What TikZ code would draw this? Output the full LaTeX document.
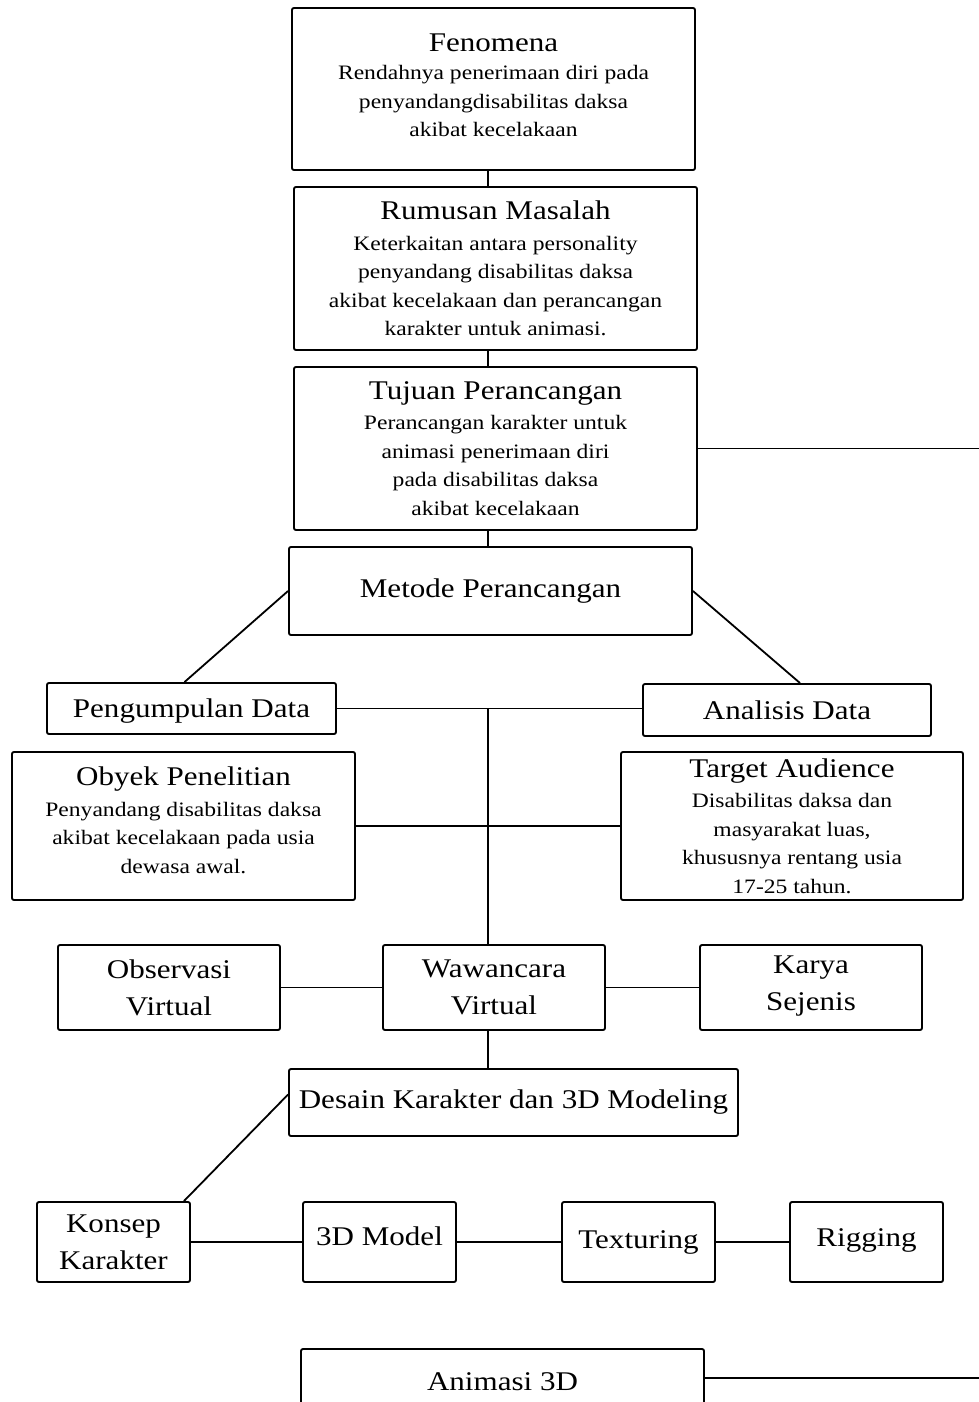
\documentclass[tikz,border=0pt]{standalone}
\usepackage{fontspec}
\setmainfont{Liberation Serif}[FakeStretch=1.15]
\newcommand{\judul}[1]{{\fontsize{27}{31}\selectfont #1}}
\begin{document}
\begin{tikzpicture}[x=1pt, y=-1pt,
        kotak/.style={draw, line width=1.9pt, rounded corners=2pt, inner sep=0pt, align=center, fill=white, font=\fontsize{20.5}{28.5}\selectfont},
        kotakbesar/.style={kotak, font=\fontsize{27}{37}\selectfont},
        garis/.style={line width=1.8pt}]
        \useasboundingbox (0,0) rectangle (979,1402);

        % alur utama
        \node[kotak, minimum width=403pt, minimum height=162pt, text depth=8pt] (fenomena) at (493.5,89)
            {\judul{Fenomena}\\Rendahnya penerimaan diri pada\\penyandangdisabilitas daksa\\akibat kecelakaan};
        \node[kotak, minimum width=403pt, minimum height=163pt] (rumusan) at (495.5,268.5)
            {\judul{Rumusan Masalah}\\[2pt]Keterkaitan antara personality\\penyandang disabilitas daksa\\akibat kecelakaan dan perancangan\\karakter untuk animasi.};
        \node[kotak, minimum width=403pt, minimum height=163pt] (tujuan) at (495.5,448.5)
            {\judul{Tujuan Perancangan}\\[2pt]Perancangan karakter untuk\\animasi penerimaan diri\\pada disabilitas daksa\\akibat kecelakaan};
        \node[kotakbesar, minimum width=403pt, minimum height=88pt] (metode) at (490.5,591) {Metode Perancangan};

        % pengumpulan dan analisis
        \node[kotakbesar, minimum width=289pt, minimum height=51pt, text depth=0pt] (kumpul) at (191.5,708.5) {Pengumpulan Data};
        \node[kotakbesar, minimum width=288pt, minimum height=52pt] (analisis) at (787,710) {Analisis Data};
        \node[kotak, minimum width=343pt, minimum height=148pt, text depth=12pt] (obyek) at (183.5,826)
            {\judul{Obyek Penelitian}\\[2pt]Penyandang disabilitas daksa\\akibat kecelakaan pada usia\\dewasa awal.};
        \node[kotak, minimum width=342pt, minimum height=148pt] (target) at (792,826)
            {\judul{Target Audience}\\[2pt]Disabilitas daksa dan\\masyarakat luas,\\khususnya rentang usia\\17-25 tahun.};

        % teknik
        \node[kotakbesar, minimum width=222pt, minimum height=85pt] (observasi) at (169,987.5) {Observasi\\Virtual};
        \node[kotakbesar, minimum width=222pt, minimum height=85pt] (wawancara) at (494,987.5) {Wawancara\\Virtual};
        \node[kotakbesar, minimum width=222pt, minimum height=85pt, text depth=9pt] (karya) at (811,987.5) {Karya\\Sejenis};

        % desain
        \node[kotakbesar, minimum width=449pt, minimum height=67pt] (desain) at (513.5,1102.5) {Desain Karakter dan 3D Modeling};
        \node[kotakbesar, minimum width=153pt, minimum height=80pt] (konsep) at (113.5,1242) {Konsep\\Karakter};
        \node[kotakbesar, minimum width=153pt, minimum height=80pt, text depth=12pt] (model) at (379.5,1242) {3D Model};
        \node[kotakbesar, minimum width=153pt, minimum height=80pt] (texturing) at (638.5,1242) {Texturing};
        \node[kotakbesar, minimum width=153pt, minimum height=80pt, text depth=9pt] (rigging) at (866.5,1242) {Rigging};
        \node[kotakbesar, minimum width=403pt, minimum height=66pt] (animasi) at (502.5,1382) {Animasi 3D};

        \coordinate (tepi) at (979,0);
        \coordinate (poros) at (488,0);

        % penghubung
        \draw[garis] (fenomena.south -| poros) -- (rumusan.north -| poros);
        \draw[garis] (rumusan.south -| poros) -- (tujuan.north -| poros);
        \draw[garis] (tujuan.south -| poros) -- (metode.north -| poros);
        \draw[garis] (tujuan.east) -- (tujuan.east -| tepi);
        \draw[garis] (metode.west) -- ([xshift=-7pt]kumpul.north);
        \draw[garis] (metode.east) -- ([xshift=13pt]analisis.north);
        \draw[garis] (kumpul) -- (kumpul -| analisis.west);
        \draw[garis] (kumpul.east -| poros) -- (wawancara.north -| poros);
        \draw[garis] (obyek) -- (target);
        \draw[garis] (observasi) -- (wawancara);
        \draw[garis] (wawancara) -- (karya);
        \draw[garis] (wawancara.south -| poros) -- (desain.north -| poros);
        \draw[garis] ([yshift=8pt]desain.west) -- ([xshift=-7pt]konsep.north east);
        \draw[garis] (konsep) -- (model);
        \draw[garis] (model) -- (texturing);
        \draw[garis] (texturing) -- (rigging);
        \draw[garis] ([yshift=4pt]animasi.east) -- ([yshift=4pt]animasi.east -| tepi);
    \end{tikzpicture}
\end{document}
